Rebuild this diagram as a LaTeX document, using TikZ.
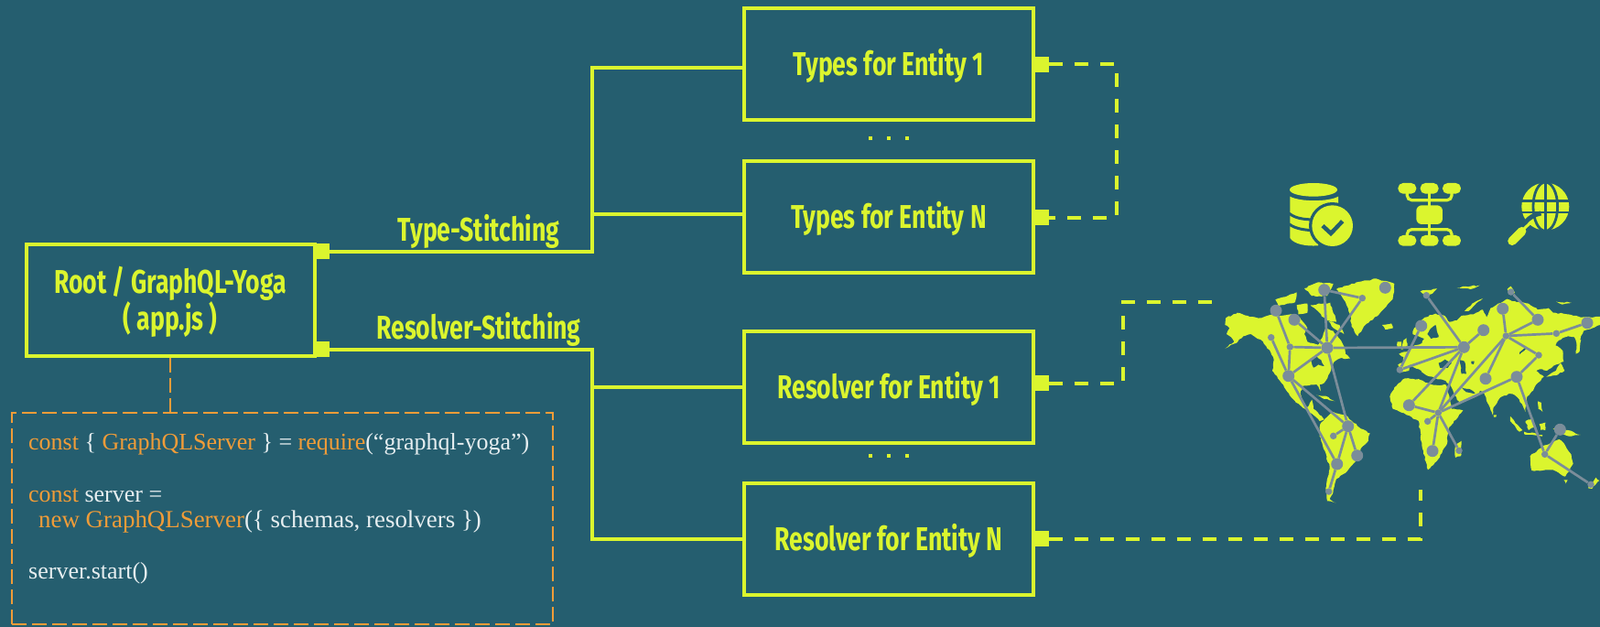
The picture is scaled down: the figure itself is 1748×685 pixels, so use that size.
\documentclass[tikz,border=0pt]{standalone}
\usepackage{fontspec}
\usetikzlibrary{decorations.pathmorphing}
\newfontfamily\titlefont[FakeStretch=0.74]{Fira Sans}
\newfontfamily\codefont{Liberation Serif}
\definecolor{bgc}{HTML}{255E6F}
\definecolor{lime}{HTML}{DBF52E}
\definecolor{orng}{HTML}{F09C38}
\definecolor{whitec}{HTML}{E6EEF0}
\definecolor{netc}{HTML}{7B8D9A}
\newcommand{\boxstrut}{\rule{0pt}{33pt}}
\tikzset{
 box/.style={draw=lime,line width=4pt,minimum width=316pt,minimum height=122pt,inner sep=0pt,align=center,text=lime,font=\titlefont\bfseries\fontsize{36}{38}\selectfont},
 port/.style={fill=lime,inner sep=0pt,minimum width=17pt,minimum height=17pt},
 wire/.style={draw=lime,line width=4pt,line join=miter},
 dwire/.style={draw=lime,line width=4pt,dash pattern=on 15pt off 13pt},
 owire/.style={draw=orng,line width=2pt,dash pattern=on 16pt off 6pt},
 lbl/.style={text=lime,inner sep=0pt,font=\titlefont\bfseries\fontsize{36}{38}\selectfont},
 code/.style={anchor=base west,inner sep=0pt,text=whitec,font=\codefont\fontsize{26}{30}\selectfont},
 dots/.style={fill=lime,inner sep=0pt,minimum size=4pt},
 big/.style={circle,fill=netc,inner sep=0pt,minimum size=13pt},
 small/.style={circle,fill=netc,inner sep=0pt,minimum size=7.5pt},
 net/.style={draw=netc,line width=2.7pt},
 land/.style={fill=lime,decorate,decoration={random steps,segment length=3pt,amplitude=0.7pt}},
 hole/.style={fill=bgc,decorate,decoration={random steps,segment length=3pt,amplitude=0.5pt}},
}
\begin{document}
\begin{tikzpicture}[x=1pt,y=-1pt]
\path[use as bounding box,fill=bgc] (0,0) rectangle (1748,685);

% map: Americas
\begin{scope}[shift={(1300,290)},x=0.3333pt,y=-0.3333pt]
\fill[land] (118,172)--(155,155)--(195,168)--(235,172)--(275,160)--(300,165)--(330,160)--(360,170)--(375,190)--(385,205)--(375,225)--(385,250)--(420,260)--(432,240)--(445,205)--(470,215)--(490,240)--(505,265)--(510,290)--(525,305)--(490,305)--(470,320)--(462,345)--(440,385)--(425,390)--(428,412)--(415,390)--(370,395)--(362,420)--(368,445)--(385,465)--(400,440)--(405,470)--(425,490)--(440,505)--(425,510)--(385,475)--(345,445)--(325,420)--(300,385)--(270,345)--(275,310)--(265,285)--(240,250)--(200,225)--(175,232)--(150,255)--(115,272)--(145,250)--(135,235)--(120,225)--(130,205)--(115,195)--cycle;
\fill[land] (300,372)--(312,390)--(325,422)--(312,400)--cycle;
\fill[land] (480,78)--(530,60)--(610,43)--(670,60)--(665,110)--(620,160)--(570,200)--(550,232)--(530,200)--(525,160)--(510,120)--cycle;
\fill[land] (375,75)--(420,55)--(470,60)--(450,100)--(400,100)--cycle;
\fill[land] (280,112)--(350,88)--(345,120)--(290,132)--cycle;
\fill[land] (395,130)--(460,122)--(480,185)--(445,180)--(420,150)--cycle;
\fill[land] (350,130)--(385,125)--(385,155)--(355,160)--cycle;
\fill[land] (450,180)--(490,195)--(505,225)--(470,205)--cycle;
\fill[land] (635,195)--(660,190)--(665,205)--(640,210)--cycle;
\fill[land] (415,425)--(445,428)--(475,445)--(440,438)--cycle;
\fill[land] (430,515)--(470,480)--(510,490)--(560,535)--(590,550)--(585,575)--(560,600)--(545,640)--(510,680)--(480,700)--(470,740)--(458,765)--(478,778)--(450,772)--(445,730)--(458,660)--(425,560)--(425,530)--cycle;
\fill[hole] (395,305)--(415,298)--(430,310)--(440,330)--(420,325)--(405,335)--cycle;
\end{scope}

% map: Eurasia, Africa, Oceania
\begin{scope}[shift={(1500,290)},x=0.3333pt,y=-0.3333pt]
\fill[land] (85,350)--(82,325)--(100,318)--(100,300)--(85,290)--(115,280)--(135,262)--(160,255)--(168,240)--(130,225)--(135,205)--(170,170)--(205,158)--(235,165)--(250,185)--(275,180)--(290,165)--(330,160)--(360,145)--(372,170)--(385,140)--(410,125)--(440,110)--(470,120)--(510,125)--(540,145)--(575,140)--(590,155)--(640,160)--(680,170)--(744,168)--(744,195)--(720,205)--(690,215)--(680,240)--(668,262)--(660,235)--(640,232)--(610,245)--(598,262)--(622,280)--(625,315)--(600,325)--(570,345)--(555,340)--(535,345)--(560,365)--(540,385)--(525,410)--(505,430)--(500,480)--(480,440)--(465,425)--(445,420)--(415,435)--(395,465)--(392,490)--(375,450)--(365,420)--(350,410)--(345,425)--(290,450)--(275,440)--(255,395)--(238,378)--(205,370)--(175,360)--(158,345)--(150,340)--(120,325)--(118,345)--cycle;
\fill[land] (55,430)--(70,400)--(105,370)--(155,375)--(190,390)--(240,392)--(265,470)--(295,475)--(250,530)--(240,590)--(210,640)--(180,670)--(160,590)--(150,510)--(110,490)--(65,470)--cycle;
\fill[land] (270,590)--(290,575)--(288,625)--(270,630)--cycle;
\fill[land] (515,625)--(560,590)--(590,580)--(610,570)--(625,582)--(650,620)--(656,650)--(630,692)--(590,670)--(520,672)--cycle;
\fill[land] (705,730)--(730,695)--(742,705)--(718,732)--cycle;
\fill[land] (100,245)--(110,238)--(115,270)--(92,275)--cycle;
\fill[land] (80,250)--(93,250)--(93,265)--(80,268)--cycle;
\fill[land] (30,195)--(60,193)--(65,205)--(40,210)--cycle;
\fill[land] (300,150)--(325,125)--(360,108)--(335,128)--(312,150)--cycle;
\fill[land] (155,85)--(210,76)--(195,92)--(170,100)--cycle;
\fill[land] (275,72)--(320,68)--(350,65)--(320,78)--cycle;
\fill[land] (440,78)--(452,68)--(465,90)--(450,96)--cycle;
\fill[land] (600,118)--(650,122)--(620,128)--cycle;
\fill[land] (665,290)--(672,240)--(682,245)--(675,285)--cycle;
\fill[land] (568,365)--(600,345)--(615,320)--(628,345)--(600,360)--cycle;
\fill[land] (540,445)--(552,450)--(556,480)--(542,470)--cycle;
\fill[land] (450,495)--(490,540)--(480,545)--(450,510)--cycle;
\fill[land] (495,545)--(555,555)--(555,560)--(495,552)--cycle;
\fill[land] (500,510)--(525,500)--(530,530)--(510,540)--cycle;
\fill[land] (545,520)--(565,515)--(565,540)--(550,540)--cycle;
\fill[land] (590,535)--(640,540)--(680,555)--(650,560)--(610,552)--cycle;
\fill[land] (395,490)--(405,490)--(403,497)--(396,497)--cycle;
\fill[land] (625,703)--(638,703)--(633,716)--cycle;
\fill[hole] (185,212)--(205,195)--(215,235)--(190,240)--(178,225)--cycle;
\fill[hole] (215,320)--(235,308)--(258,320)--(245,336)--(220,336)--cycle;
\fill[hole] (285,310)--(300,315)--(306,355)--(290,355)--cycle;
\fill[hole] (322,314)--(332,314)--(330,324)--(322,322)--cycle;
\fill[hole] (255,400)--(265,470)--(258,470)--(245,410)--cycle;
\fill[hole] (290,400)--(322,408)--(335,420)--(305,415)--cycle;
\fill[hole] (480,285)--(500,268)--(502,272)--(484,288)--cycle;
\end{scope}

% network
\foreach \n/\s/\x/\y in {A/big/1446.7/316.7,B/small/1488.3/325.7,C/big/1513.3/314.3,D/big/1394/339.3,E/big/1414/349.3,F/small/1388.7/368.7,G/small/1409.3/379,H/big/1450/380,I/big/1407.7/410.7,J/big/1472.7/465.7,K/small/1456.7/476.3,L/big/1482.7/497.7,M/big/1460.7/507,N/small/1451.7/537,P/big/1599.3/379.3,a/small/1558.3/322.7,b/big/1552.7/356,c/big/1620.7/360.7,d/small/1529.3/404,e/big/1539.3/442.7,f/small/1571.3/451,g/small/1559.7/460.3,h/big/1565/492.7,i/small/1594/492.3,j/big/1641.7/337.3,k/small/1650.7/319,l/big/1680/349.3,m/small/1645.3/367,n/small/1700.3/364.3,o/big/1734/352.7,p/small/1681/388,q/big/1657/411.7,r/big/1623/413.7,s/big/1704.3/469.3,t/small/1687.7/496.3,u/small/1738/529.3}
  \node[\s] (net\n) at (\x,\y) {};
\foreach \u/\v in {A/B,A/H,B/H,E/H,D/G,G/H,G/I,F/I,I/H,H/J,I/J,I/M,J/K,J/L,J/M,M/N,H/P,a/P,b/d,c/P,d/P,e/P,e/f,f/P,f/g,f/h,f/i,f/m,f/q,q/p,p/m,m/j,m/l,l/k,m/n,n/o,m/r,q/t,t/s,t/u}
  \draw[net] (net\u) -- (net\v);

% icons
\begin{scope}[shift={(1300,180)},x=0.3333pt,y=-0.3333pt]
 % database
 \fill[lime] (328,104) .. controls (360,122) and (455,122) .. (486,104) -- (486,140) -- (440,200) -- (420,265) .. controls (380,268) and (340,260) .. (328,240) -- cycle;
 \fill[lime] (405,82) ellipse [x radius=78,y radius=22];
 \draw[bgc,line width=3pt] (326,160) .. controls (350,180) and (390,180) .. (420,180);
 \draw[bgc,line width=3pt] (326,195) .. controls (345,210) and (380,215) .. (410,215);
 \fill[bgc] (467,200) circle [radius=77];
 \fill[lime] (467,200) circle [radius=67];
 \draw[bgc,line width=4.5pt] (435,200) -- (462,225) -- (500,185);
 % org chart
 \draw[lime,line width=3.2pt,rounded corners=5pt] (712,90) |- (858,116) -- (858,90);
 \draw[lime,line width=3.2pt,rounded corners=5pt] (712,236) |- (858,212) -- (858,236);
 \draw[lime,line width=3.2pt] (785,90) -- (785,236);
 \foreach \px in {682,755,828} {
  \fill[lime,rounded corners=5.5pt] (\px,60) rectangle ++(60,35);
  \fill[lime,rounded corners=5.5pt] (\px,231) rectangle ++(60,35);
 }
 \fill[lime,rounded corners=6pt] (742,133) rectangle (828,195);
 % globe search
 \fill[lime] (1165,137) circle [radius=78];
 \draw[bgc,line width=2.8pt] (1085,118) -- (1245,118) (1085,156) -- (1245,156) (1165,58) -- (1165,216);
 \draw[bgc,line width=2.8pt] (1165,137) ellipse [x radius=40,y radius=80];
 \draw[bgc,line width=5pt] (1100,188) arc [start angle=220,end angle=260,radius=85];
 \draw[lime,line width=3pt] (1095,210) -- (1118,188);
 \draw[lime,line width=9.5pt,line cap=round] (1056,250) -- (1088,218);
\end{scope}

% boxes
\node[box,minimum width=315pt] (root) at (186,328) {\boxstrut Root / GraphQL-Yoga\\[0pt]( app.js )};
\node[box] (t1) at (971,70) {\boxstrut Types for Entity 1};
\node[box] (tn) at (971,237) {\boxstrut Types for Entity N};
\node[box] (r1) at (971,422.5) {\boxstrut Resolver for Entity 1};
\node[box] (rn) at (971,588.5) {\boxstrut Resolver for Entity N};

% ports
\node[port] (s1) at (351,274.5) {};
\node[port] (s2) at (351,381.5) {};
\node[port] (pt1) at (1137,70.5) {};
\node[port] (ptn) at (1137,237.5) {};
\node[port] (pr1) at (1137,418.5) {};
\node[port] (prn) at (1137,588.5) {};

% connectors
\coordinate (j1) at (647,234);
\coordinate (j2) at (647,423);
\coordinate (k1) at (1220,150);
\coordinate (m1) at (1227,370);
\coordinate (m1e) at (1325,329.5);
\coordinate (m2) at (1552,535);
\draw[wire] (s1.east) -| (j1);
\draw[wire] (j1) |- ([yshift=-4pt]t1.west);
\draw[wire] (j1) -- (j1 -| tn.west);
\draw[wire] (s2.east) -| (j2);
\draw[wire] (j2) -- (j2 -| r1.west);
\draw[wire] (j2) |- (rn.west);
\draw[dwire] (pt1.east) -| (k1) |- (ptn.east);
\draw[dwire] (pr1.east) -| (m1) |- (m1e);
\draw[dwire] (prn.east) -| (m2);

% labels
\node[lbl] (l1) at (523,253) {Type-Stitching};
\node[lbl] (l2) at (523,360) {Resolver-Stitching};

% dots
\foreach \i/\dx in {1/951,2/971,3/991} {
 \node[dots] (da\i) at (\dx,151) {};
 \node[dots] (db\i) at (\dx,498) {};
}

% code box
\node[draw=orng,line width=2pt,dash pattern=on 16pt off 6pt,minimum width=591pt,minimum height=231pt,inner sep=0pt] (codebox) at (308.5,566.5) {};
\draw[owire] (root.south) -- (root.south |- codebox.north);
\node[code] (c1) at (31,491) {\textcolor{orng}{const} \{ \textcolor{orng}{GraphQLServer} \} = \textcolor{orng}{require}(“graphql-yoga”)};
\node[code] (c2) at (31,548) {\textcolor{orng}{const} server =};
\node[code,font=\codefont\fontsize{26.9}{30}\selectfont] (c3) at (42,576) {\textcolor{orng}{new GraphQLServer}(\{ schemas, resolvers \})};
\node[code] (c4) at (31,632) {server.start()};
\end{tikzpicture}
\end{document}
